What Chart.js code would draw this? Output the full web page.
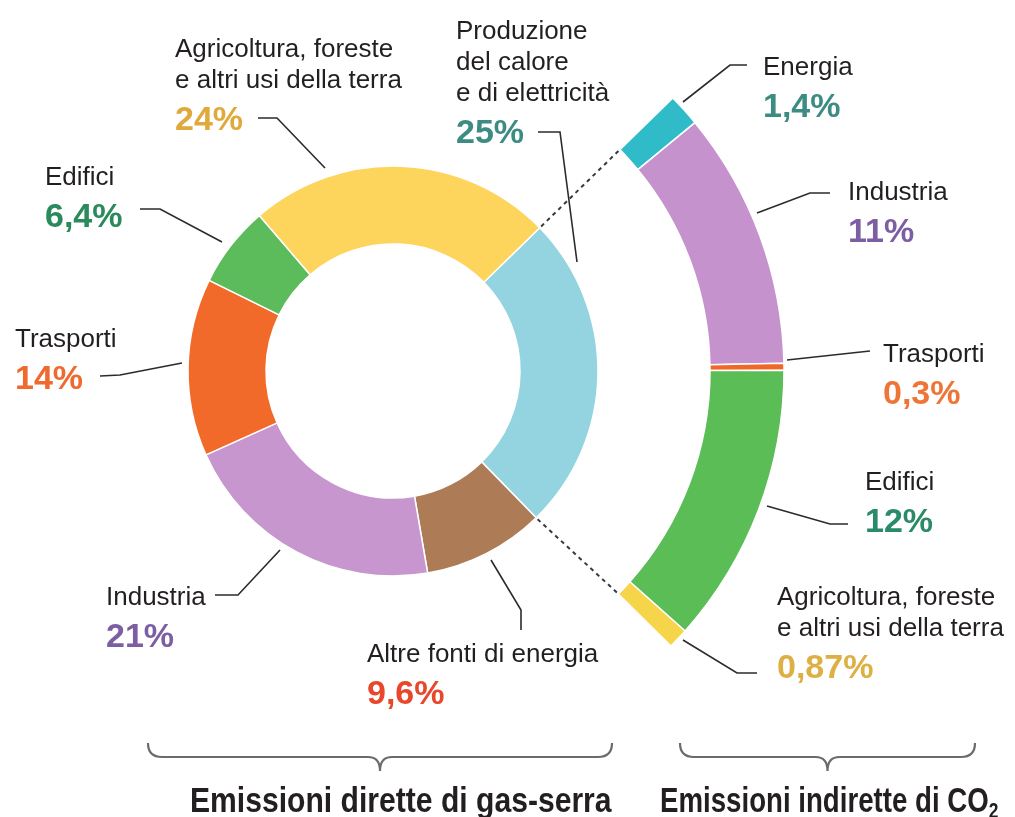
<!DOCTYPE html>
<html>
<head>
<meta charset="utf-8">
<script src="https://cdn.jsdelivr.net/npm/chart.js@4.4.0/dist/chart.umd.min.js"></script>
<style>
  html, body { margin: 0; padding: 0; background: #fff; }
  #wrap { position: relative; width: 1015px; height: 817px; overflow: hidden; }
  #chart { position: absolute; left: 0; top: 0; }
  .lbl { position: absolute; font-family: "Liberation Sans", Arial, sans-serif; font-size: 26px; line-height: 31px; color: #231f20; white-space: pre; }
  .lbl .pct { display: block; font-weight: bold; font-size: 34px; line-height: 47px; }
  .title { position: absolute; top: 778px; font-family: "Liberation Sans", Arial, sans-serif; font-weight: bold; font-size: 35px; line-height: 44px; color: #231f20; white-space: nowrap; transform-origin: 0 0; }
  .title sub { font-size: 22px; vertical-align: -6px; line-height: 0; }
</style>
</head>
<body>
<div id="wrap">
  <canvas id="chart" width="1015" height="817"></canvas>
  <div class="title" id="t1" style="left:190px; transform: scaleX(0.86)">Emissioni dirette di gas-serra</div>
  <div class="title" id="t2" style="left:660px; transform: scaleX(0.79)">Emissioni indirette di CO<sub>2</sub></div>
</div>
<script>
// Emissioni dirette di gas-serra (anello interno), in senso orario dal settore "calore"
const direttiNomi = ["Produzione\ndel calore\ne di elettricità", "Altre fonti di energia", "Industria", "Trasporti", "Edifici", "Agricoltura, foreste\ne altri usi della terra"];
const direttiValori = [25, 9.6, 21, 14, 6.4, 24];
const direttiColori = ["#93d4e0", "#ad7b56", "#c796cf", "#f26a2a", "#5cbb5a", "#fdd55c"];

// Emissioni indirette di CO2 (scomposizione del 25%)
const indirettiNomi = ["Energia", "Industria", "Trasporti", "Edifici", "Agricoltura, foreste\ne altri usi della terra"];
const indirettiValori = [1.4, 11, 0.3, 12, 0.87];
const indirettiColori = ["#2fbcc8", "#c592cd", "#f0672a", "#5bbd56", "#f6d54a"];

// posizioni delle etichette (x, linea di base della prima riga) e colori delle percentuali
const direttiEtichette = [
  { x: 456, y: 39, c: "#3d8c84", linea: [[538, 132], [560, 132], [577, 262]] },
  { x: 367, y: 662, c: "#e8472b", linea: [[521, 630], [521, 610], [491, 560]] },
  { x: 106, y: 605, c: "#7c5ea2", linea: [[215, 595], [238, 595], [280, 550]] },
  { x: 15, y: 347, c: "#ee6a2e", linea: [[100, 376], [120, 375], [182, 363]] },
  { x: 45, y: 185, c: "#2b8a5c", linea: [[140, 209], [160, 209], [222, 242]] },
  { x: 175, y: 57, c: "#e0a93c", linea: [[258, 118], [277, 118], [325, 168]] }
];
const indirettiEtichette = [
  { x: 763, y: 75, c: "#3d8c84", linea: [[747, 65], [730, 65], [683, 102]] },
  { x: 848, y: 200, c: "#7c5ea2", linea: [[830, 193], [810, 193], [757, 213]] },
  { x: 883, y: 362, c: "#ee7536", linea: [[870, 351], [787, 360]] },
  { x: 865, y: 490, c: "#2b8a68", linea: [[848, 524], [830, 524], [767, 506]] },
  { x: 777, y: 605, c: "#dcb042", linea: [[757, 673], [737, 673], [683, 640]] }
];

function percento(v) {
  return String(v).replace(".", ",") + "%";
}

function disegnaGraffa(ctx, x1, x2, y, punta) {
  const xm = (x1 + x2) / 2;
  ctx.beginPath();
  ctx.moveTo(x1, y - 14);
  ctx.quadraticCurveTo(x1, y, x1 + 14, y);
  ctx.lineTo(xm - 12, y);
  ctx.quadraticCurveTo(xm, y, xm, punta);
  ctx.quadraticCurveTo(xm, y, xm + 12, y);
  ctx.lineTo(x2 - 14, y);
  ctx.quadraticCurveTo(x2, y, x2, y - 14);
  ctx.stroke();
}

const decorazioni = {
  id: "decorazioni",
  afterDatasetsDraw(chart) {
    const ctx = chart.ctx;
    ctx.save();
    // linee tratteggiate tra il settore "calore" e l'anello esterno
    const interno = chart.getDatasetMeta(2).data[0];
    const esterno = chart.getDatasetMeta(0).data;
    const primo = esterno[0];
    const ultimo = esterno[esterno.length - 1];
    ctx.strokeStyle = "#3a3a3a";
    ctx.lineWidth = 2;
    ctx.setLineDash([4, 4]);
    [[interno.startAngle, primo.startAngle], [interno.endAngle, ultimo.endAngle]].forEach(([a1, a2]) => {
      ctx.beginPath();
      ctx.moveTo(interno.x + Math.cos(a1) * (interno.outerRadius + 2), interno.y + Math.sin(a1) * (interno.outerRadius + 2));
      ctx.lineTo(primo.x + Math.cos(a2) * (primo.innerRadius - 2), primo.y + Math.sin(a2) * (primo.innerRadius - 2));
      ctx.stroke();
    });
    ctx.setLineDash([]);

    // linee di richiamo
    ctx.strokeStyle = "#2b2b2b";
    ctx.lineWidth = 1.6;
    direttiEtichette.concat(indirettiEtichette).forEach(e => {
      ctx.beginPath();
      e.linea.forEach((p, i) => i ? ctx.lineTo(p[0], p[1]) : ctx.moveTo(p[0], p[1]));
      ctx.stroke();
    });

    // graffe in basso
    ctx.strokeStyle = "#6b6b6b";
    ctx.lineWidth = 2.2;
    disegnaGraffa(ctx, 148, 612, 757, 771);
    disegnaGraffa(ctx, 680, 975, 757, 771);
    ctx.restore();
  }
};

const rotazione = 45.7;

new Chart(document.getElementById("chart"), {
  type: "doughnut",
  data: {
    datasets: [
      {
        label: "Emissioni indirette di CO2",
        data: indirettiValori,
        backgroundColor: indirettiColori,
        borderColor: "#ffffff",
        borderWidth: 1.5,
        rotation: rotazione,
        circumference: 89,
        weight: 74,
        clip: false
      },
      {
        label: "spazio",
        data: [1],
        backgroundColor: "rgba(0,0,0,0)",
        borderWidth: 0,
        rotation: rotazione,
        weight: 112,
        clip: false
      },
      {
        label: "Emissioni dirette di gas-serra",
        data: direttiValori,
        backgroundColor: direttiColori,
        borderColor: "#ffffff",
        borderWidth: 1.5,
        rotation: rotazione,
        weight: 78,
        clip: false
      }
    ]
  },
  options: {
    responsive: false,
    animation: false,
    radius: 391,
    cutout: "32.48%",
    layout: { padding: { left: 2, right: 231, top: 0, bottom: 75 } },
    plugins: {
      legend: { display: false },
      tooltip: { enabled: false }
    }
  },
  plugins: [decorazioni]
});

// etichette come testo HTML
const wrap = document.getElementById("wrap");
function aggiungiEtichette(nomi, valori, pos) {
  nomi.forEach((nome, i) => {
    const p = pos[i];
    const div = document.createElement("div");
    div.className = "lbl";
    div.style.left = p.x + "px";
    div.style.top = (p.y - 24.5) + "px";
    div.textContent = nome;
    const pct = document.createElement("span");
    pct.className = "pct";
    pct.style.color = p.c;
    pct.textContent = percento(valori[i]);
    div.appendChild(pct);
    wrap.appendChild(div);
  });
}
aggiungiEtichette(direttiNomi, direttiValori, direttiEtichette);
aggiungiEtichette(indirettiNomi, indirettiValori, indirettiEtichette);
</script>
</body>
</html>
